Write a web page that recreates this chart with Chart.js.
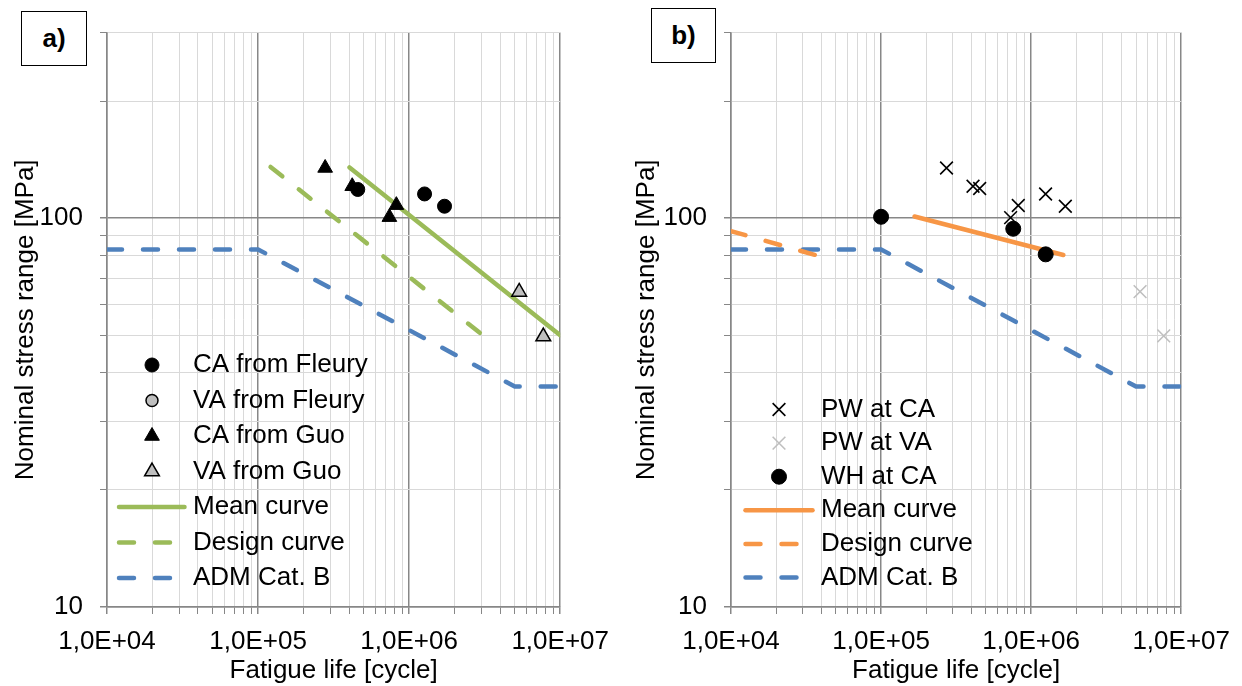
<!DOCTYPE html>
<html>
<head>
<meta charset="utf-8">
<title>Fatigue S-N curves</title>
<script src="https://cdn.jsdelivr.net/npm/chart.js@4/dist/chart.umd.min.js"></script>
<style>
    body { margin: 0; background: #fff; }
    #wrap { position: relative; width: 1242px; height: 686px; overflow: hidden; }
    canvas { position: absolute; top: 0; }
    #chartA { left: 0; }
    #chartB { left: 621px; }
    .tag {
        position: absolute; box-sizing: border-box; border: 1px solid #000; background: #fff;
        font: bold 26px "Liberation Sans", Arial, sans-serif; color: #000;
        display: flex; align-items: center; justify-content: center; z-index: 2;
    }
</style>
</head>
<body>
<div id="wrap">
    <canvas id="chartA" width="621" height="686"></canvas>
    <canvas id="chartB" width="621" height="686"></canvas>
    <div class="tag" style="left:21px;top:11px;width:66px;height:55px;">a)</div>
    <div class="tag" style="left:651px;top:8px;width:65px;height:55px;">b)</div>
</div>
<script>
'use strict';

/* ── Axis ticks / grid ────────────────────────────────────────────────── */
const xMajorTicks = [1e4, 1e5, 1e6, 1e7];
const xTickLabels = ['1,0E+04', '1,0E+05', '1,0E+06', '1,0E+07'];
const xGridValues = [
    1e4, 2e4, 3e4, 4e4, 5e4, 6e4, 7e4, 8e4, 9e4,
    1e5, 2e5, 3e5, 4e5, 5e5, 6e5, 7e5, 8e5, 9e5,
    1e6, 2e6, 3e6, 4e6, 5e6, 6e6, 7e6, 8e6, 9e6, 1e7
];
const yMajorTicks = [10, 100];
const yTickLabels = ['10', '100'];
const yGridValues = [10, 20, 30, 40, 50, 60, 70, 80, 90, 100, 200, 300];

/* ── a) data: N [cycles], S [MPa] ─────────────────────────────────────── */
const fleuryCA_N = [4.57e5, 1.265e6, 1.715e6];
const fleuryCA_S = [118.5, 115.4, 107.3];
const fleuryVA_N = [];
const fleuryVA_S = [];
const guoCA_N = [2.78e5, 4.20e5, 7.40e5, 8.23e5];
const guoCA_S = [134.6, 120.8, 100.6, 108.0];
const guoVA_N = [5.35e6, 7.73e6];
const guoVA_S = [64.6, 49.6];
const meanA_N = [4.03e5, 1e7];
const meanA_S = [135.0, 50.0];
const designA_N = [1.21e5, 3.09e6];
const designA_S = [135.4, 49.9];

/* ── b) data ──────────────────────────────────────────────────────────── */
const pwCA_N = [2.73e5, 4.10e5, 4.54e5, 7.30e5, 8.21e5, 1.248e6, 1.69e6];
const pwCA_S = [134.6, 120.8, 119.2, 100.3, 107.8, 115.4, 107.3];
const pwVA_N = [5.32e6, 7.65e6];
const pwVA_S = [64.7, 49.8];
const whCA_N = [1.0e5, 7.6e5, 1.25e6];
const whCA_S = [100.8, 93.9, 80.7];
const meanB_N = [1.67e5, 1.64e6];
const meanB_S = [101.0, 80.4];
const designB_N = [1e4, 3.86e4];
const designB_S = [92.6, 79.9];

/* ── ADM Cat. B (both panels) ─────────────────────────────────────────── */
const adm_N = [1e4, 1e5, 5.0e6, 1e7];
const adm_S = [83.1, 83.1, 36.9, 36.9];

const GREEN = '#9BBB59', BLUE = '#4F81BD', ORANGE = '#F79646', GREY = '#BFBFBF';
const FONT = '"Liberation Sans", Arial, sans-serif';

Chart.defaults.font.family = FONT;
Chart.defaults.font.size = 26;
Chart.defaults.color = '#000';

const pts = (xs, ys) => xs.map((x, i) => ({ x: x, y: ys[i] }));
const isMajor = (v, majors) => majors.some(m => Math.abs(v / m - 1) < 1e-6);

function markers(label, xs, ys, style, fill, stroke, radius, bw) {
    return {
        label: label, data: pts(xs, ys), showLine: false,
        pointStyle: style, pointRadius: radius, pointHoverRadius: radius,
        backgroundColor: fill, borderColor: stroke, borderWidth: bw
    };
}
function curve(label, xs, ys, color, dashed) {
    return {
        label: label, data: pts(xs, ys), showLine: true, pointRadius: 0,
        borderColor: color, backgroundColor: color, borderWidth: 4.5,
        borderDash: dashed ? [15, 21] : [], borderCapStyle: 'round',
        tension: 0, fill: false
    };
}

/* ─────────────────────────────────────────────────────────────────────────
   Legend drawn inside the plot area (Excel-like)
───────────────────────────────────────────────────────────────────────── */
function drawMarker(ctx, style, r, x, y) {
    ctx.beginPath();
    if (style === 'triangle') {
        for (let k = 0; k < 3; k++) {
            const a = k * 2 * Math.PI / 3;
            ctx.lineTo(x + Math.sin(a) * r, y - Math.cos(a) * r);
        }
        ctx.closePath();
        ctx.fill();
    } else if (style === 'crossRot') {
        const d = r * Math.SQRT1_2;
        ctx.moveTo(x - d, y - d); ctx.lineTo(x + d, y + d);
        ctx.moveTo(x - d, y + d); ctx.lineTo(x + d, y - d);
    } else {
        ctx.arc(x, y, r, 0, Math.PI * 2);
        ctx.fill();
    }
    ctx.stroke();
}

const insideLegend = {
    id: 'insideLegend',
    afterDraw(chart, args, o) {
        const ctx = chart.ctx;
        ctx.save();
        ctx.font = '26px ' + FONT;
        ctx.textBaseline = 'middle';
        chart.data.datasets.forEach((ds, i) => {
            const y = o.top + i * o.step;
            ctx.save();
            ctx.strokeStyle = ds.borderColor;
            ctx.fillStyle = ds.backgroundColor;
            if (ds.showLine) {
                ctx.lineWidth = ds.borderWidth;
                ctx.lineCap = 'round';
                ctx.setLineDash(ds.borderDash);
                ctx.beginPath();
                ctx.moveTo(o.lineX0, y);
                ctx.lineTo(o.lineX1, y);
                ctx.stroke();
            } else {
                ctx.lineWidth = ds.borderWidth;
                drawMarker(ctx, ds.pointStyle, ds.legendRadius || ds.pointRadius, o.markX, y);
            }
            ctx.restore();
            ctx.fillStyle = '#000';
            ctx.fillText(ds.label, o.textX, y);
        });
        ctx.restore();
    }
};

function makeChart(id, datasets, yWidth, padRight, legend) {
    return new Chart(document.getElementById(id), {
        type: 'scatter',
        data: { datasets: datasets },
        plugins: [insideLegend],
        options: {
            responsive: false,
            animation: false,
            layout: { padding: { top: 32, right: padRight, bottom: 0, left: 0 } },
            plugins: {
                legend: { display: false },
                tooltip: { enabled: false },
                insideLegend: legend
            },
            scales: {
                x: {
                    type: 'logarithmic', min: 1e4, max: 1e7,
                    afterBuildTicks: s => { s.ticks = xGridValues.map(v => ({ value: v })); },
                    afterFit: s => { s.height = 79; },
                    title: { display: true, text: 'Fatigue life [cycle]', padding: { top: 0, bottom: 0 } },
                    ticks: {
                        autoSkip: false, maxRotation: 0, minRotation: 0, padding: 12,
                        callback: v => {
                            const i = xMajorTicks.findIndex(m => Math.abs(v / m - 1) < 1e-6);
                            return i >= 0 ? xTickLabels[i] : '';
                        }
                    },
                    grid: {
                        color: c => isMajor(c.tick.value, xMajorTicks) ? '#878787' : '#D9D9D9',
                        lineWidth: c => isMajor(c.tick.value, xMajorTicks) ? 1.5 : 1,
                        tickColor: '#878787', tickLength: 7
                    },
                    border: { color: '#878787', width: 1.5 }
                },
                y: {
                    type: 'logarithmic', min: 10, max: 300,
                    afterBuildTicks: s => { s.ticks = yGridValues.map(v => ({ value: v })); },
                    afterFit: s => { s.width = yWidth; },
                    title: { display: true, text: 'Nominal stress range [MPa]', padding: { top: 10, bottom: 0 } },
                    ticks: {
                        autoSkip: false, padding: 17,
                        callback: v => {
                            const i = yMajorTicks.findIndex(m => Math.abs(v / m - 1) < 1e-6);
                            return i >= 0 ? yTickLabels[i] : '';
                        }
                    },
                    grid: {
                        color: c => isMajor(c.tick.value, yMajorTicks) ? '#878787' : '#D9D9D9',
                        lineWidth: c => isMajor(c.tick.value, yMajorTicks) ? 1.5 : 1,
                        tickColor: '#878787', tickLength: 7
                    },
                    border: { color: '#878787', width: 1.5 }
                }
            }
        }
    });
}

/* ── a) ─────────────────────────────────────────────────────────────── */
const vaFleury = markers('VA from Fleury', fleuryVA_N, fleuryVA_S, 'circle', GREY, '#000', 7, 1.5);
vaFleury.legendRadius = 6;
makeChart('chartA', [
    markers('CA from Fleury', fleuryCA_N, fleuryCA_S, 'circle', '#000', '#000', 7, 1),
    vaFleury,
    markers('CA from Guo', guoCA_N, guoCA_S, 'triangle', '#000', '#000', 8.5, 1),
    markers('VA from Guo', guoVA_N, guoVA_S, 'triangle', GREY, '#000', 8.5, 1.5),
    curve('Mean curve', meanA_N, meanA_S, GREEN, false),
    curve('Design curve', designA_N, designA_S, GREEN, true),
    curve('ADM Cat. B', adm_N, adm_S, BLUE, true)
], 107, 60, { top: 365, step: 35.5, markX: 152, textX: 193, lineX0: 119, lineX1: 184.5 });

/* ── b) ─────────────────────────────────────────────────────────────── */
makeChart('chartB', [
    markers('PW at CA', pwCA_N, pwCA_S, 'crossRot', '#000', '#000', 9, 1.6),
    markers('PW at VA', pwVA_N, pwVA_S, 'crossRot', GREY, GREY, 9, 1.6),
    markers('WH at CA', whCA_N, whCA_S, 'circle', '#000', '#000', 7.5, 1),
    curve('Mean curve', meanB_N, meanB_S, ORANGE, false),
    curve('Design curve', designB_N, designB_S, ORANGE, true),
    curve('ADM Cat. B', adm_N, adm_S, BLUE, true)
], 110, 56, { top: 409.5, step: 33.6, markX: 158, textX: 200, lineX0: 124.5, lineX1: 191.5 });
</script>
</body>
</html>
